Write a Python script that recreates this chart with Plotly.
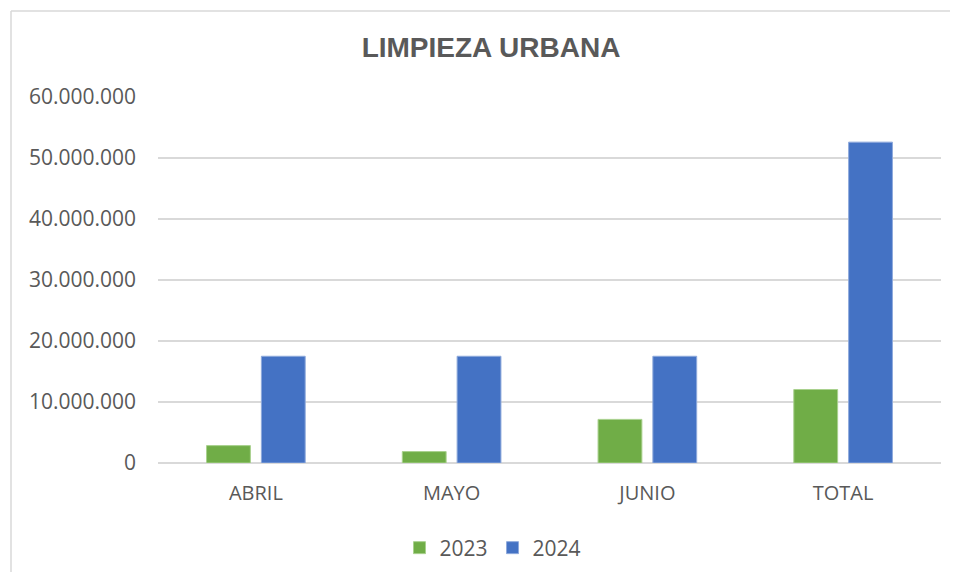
import plotly.graph_objects as go

categories = ["ABRIL", "MAYO", "JUNIO", "TOTAL"]
values_2023 = [2850000, 1870000, 7150000, 12050000]
values_2024 = [17500000, 17500000, 17500000, 52600000]
tick_vals = [0, 10000000, 20000000, 30000000, 40000000, 50000000, 60000000]

FONT = "Open Sans"
GREY = "#595959"

fig = go.Figure()
fig.add_trace(go.Bar(name="2023", x=categories, y=values_2023,
                     marker=dict(color="#70AD47", line=dict(color="#A9D18E", width=1))))
fig.add_trace(go.Bar(name="2024", x=categories, y=values_2024,
                     marker=dict(color="#4472C4", line=dict(color="#8FAADC", width=1))))

# page body has an 8px margin, so figure coords = screen coords - 8
OFF = 8
W, H = 942, 564
L, R, T, B = 158 - OFF, W - (941 - OFF), 97 - OFF, H - (463 - OFF)
pw = W - L - R
ph = H - T - B

def px2paper_x(px):
    return (px - OFF - L) / pw

def px2paper_y(py):
    return (H - B - (py - OFF)) / ph

fig.update_layout(
    width=W, height=H,
    margin=dict(l=L, r=R, t=T, b=B),
    paper_bgcolor="white", plot_bgcolor="white",
    separators=",.",
    barmode="group", bargap=0.44, bargroupgap=0.2,
    title=dict(text="<b>LIMPIEZA URBANA</b>", x=(491 - OFF) / W, xref="container", xanchor="center",
               y=1 - (47 - OFF) / H, yref="container", yanchor="middle",
               font=dict(family="Liberation Sans", size=28, color=GREY)),
    font=dict(family=FONT, size=20, color=GREY),
    xaxis=dict(showgrid=False, showline=False, ticks="", ticklabelstandoff=16,
               tickfont=dict(size=20, color=GREY)),
    yaxis=dict(range=[0, 60000000], tickvals=tick_vals, tickformat=",d",
               showgrid=True, gridcolor="#d9d9d9", gridwidth=1.5,
               zeroline=True, zerolinecolor="#d9d9d9", zerolinewidth=1.5,
               showline=False, ticks="", ticklabelstandoff=21,
               tickfont=dict(size=21, color=GREY)),
    legend=dict(orientation="h", xref="container", yref="container",
                x=(493 - OFF) / W, xanchor="center", y=1 - (548 - OFF) / H, yanchor="middle",
                font=dict(size=21, color=GREY), itemwidth=30, traceorder="normal"),
    showlegend=True,
)

# chart-area border (left and top edges visible)
fig.add_shape(type="line", xref="paper", yref="paper",
              x0=px2paper_x(11), x1=px2paper_x(11), y0=px2paper_y(600), y1=px2paper_y(11),
              line=dict(color="#d9d9d9", width=1.5))
fig.add_shape(type="line", xref="paper", yref="paper",
              x0=px2paper_x(11), x1=px2paper_x(980), y0=px2paper_y(11), y1=px2paper_y(11),
              line=dict(color="#d9d9d9", width=1.5))

fig.write_html("out.html")
